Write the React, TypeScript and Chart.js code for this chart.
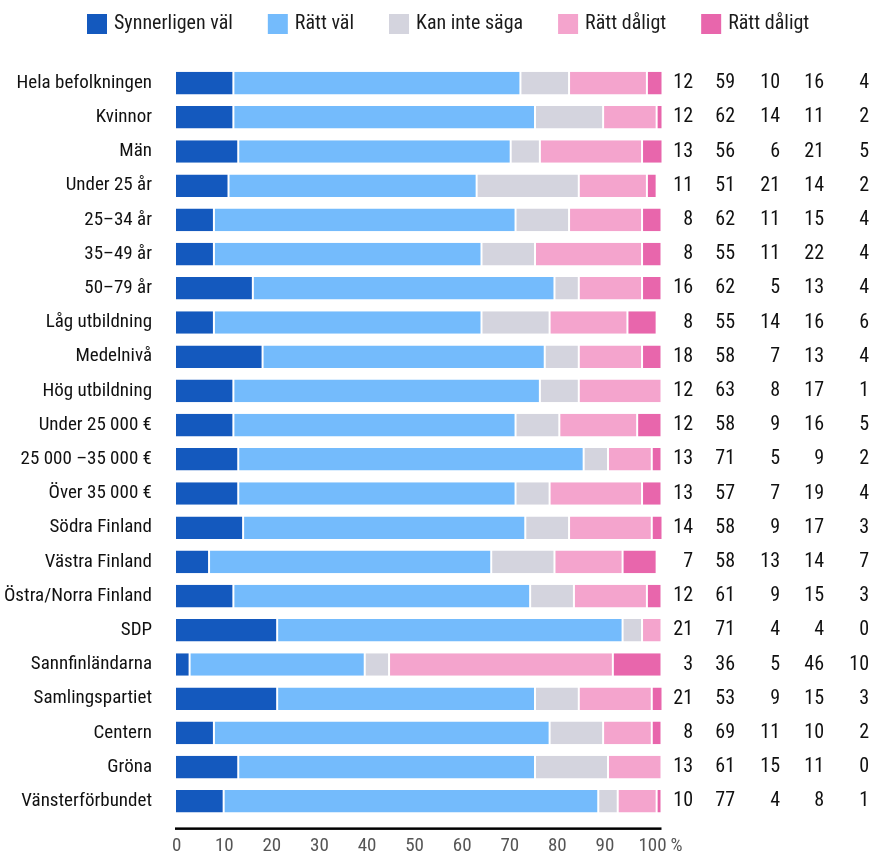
import React, { useEffect, useRef } from 'react';
import { Chart, registerables } from 'chart.js';

Chart.register(...registerables);

const categories = [
  'Hela befolkningen',
  'Kvinnor',
  'Män',
  'Under 25 år',
  '25–34 år',
  '35–49 år',
  '50–79 år',
  'Låg utbildning',
  'Medelnivå',
  'Hög utbildning',
  'Under 25 000 €',
  '25 000 –35 000 €',
  'Över 35 000 €',
  'Södra Finland',
  'Västra Finland',
  'Östra/Norra Finland',
  'SDP',
  'Sannfinländarna',
  'Samlingspartiet',
  'Centern',
  'Gröna',
  'Vänsterförbundet',
];

const seriesLabels = ['Synnerligen väl', 'Rätt väl', 'Kan inte säga', 'Rätt dåligt', 'Rätt dåligt'];

const synnerligenVal = [12, 12, 13, 11, 8, 8, 16, 8, 18, 12, 12, 13, 13, 14, 7, 12, 21, 3, 21, 8, 13, 10];
const rattVal = [59, 62, 56, 51, 62, 55, 62, 55, 58, 63, 58, 71, 57, 58, 58, 61, 71, 36, 53, 69, 61, 77];
const kanInteSaga = [10, 14, 6, 21, 11, 11, 5, 14, 7, 8, 9, 5, 7, 9, 13, 9, 4, 5, 9, 11, 15, 4];
const rattDaligt = [16, 11, 21, 14, 15, 22, 13, 16, 13, 17, 16, 9, 19, 17, 14, 15, 4, 46, 15, 10, 11, 8];
const rattDaligt2 = [4, 2, 5, 2, 4, 4, 4, 6, 4, 1, 5, 2, 4, 3, 7, 3, 0, 10, 3, 2, 0, 1];

const seriesValues = [synnerligenVal, rattVal, kanInteSaga, rattDaligt, rattDaligt2];
const seriesColors = ['#1459be', '#74bbfc', '#d4d4de', '#f4a4cd', '#e866ac'];

const xTicks = [0, 10, 20, 30, 40, 50, 60, 70, 80, 90, 100];

const FONT = "'Roboto Condensed', 'Open Sans Condensed', sans-serif";
const FONT_SIZE = 19;
const LEGEND_SIZE = 20;
const VALUE_SIZE = 20;

// right edges of the value columns (layout)
const columnRight = [693, 735, 780, 824, 869];

const overlayPlugin = {
  id: 'overlay',
  afterDraw(chart: any) {
    const ctx = chart.ctx as CanvasRenderingContext2D;
    const area = chart.chartArea;
    ctx.save();

    // legend
    ctx.font = `${LEGEND_SIZE}px ${FONT}`;
    let lx = 87;
    chart.data.datasets.forEach((ds: any) => {
      ctx.fillStyle = ds.backgroundColor;
      ctx.fillRect(lx, 14, 20, 20);
      ctx.fillStyle = '#1a1a1a';
      ctx.textAlign = 'left';
      ctx.textBaseline = 'middle';
      ctx.fillText(ds.label, lx + 27, 24);
      lx += 27 + ctx.measureText(ds.label).width + 35;
    });

    // value columns
    ctx.font = `${VALUE_SIZE}px ${FONT}`;
    const yScale = chart.scales.y;
    ctx.fillStyle = '#111';
    ctx.textAlign = 'right';
    ctx.textBaseline = 'middle';
    chart.data.datasets.forEach((ds: any, i: number) => {
      ds.data.forEach((v: number, j: number) => {
        const y = yScale.getPixelForValue(j);
        ctx.fillText(String(v), columnRight[i], y);
      });
    });

    // axis line
    ctx.fillStyle = '#000';
    ctx.fillRect(area.left, area.bottom + 9, area.right - area.left, 2.5);

    // percent sign after last tick
    ctx.font = `${FONT_SIZE}px ${FONT}`;
    const x2 = chart.scales.x2;
    const px = x2.getPixelForValue(100);
    const w = ctx.measureText('100').width;
    ctx.fillStyle = '#555';
    ctx.textAlign = 'left';
    ctx.fillText('%', px + w / 2 + 4, area.bottom + 16 + FONT_SIZE * 0.6);
    ctx.restore();
  },
};

export default function App() {
  const ref = useRef<HTMLCanvasElement | null>(null);

  useEffect(() => {
    if (!ref.current) return;
    const chart = new Chart(ref.current, {
      type: 'bar',
      data: {
        labels: categories,
        datasets: seriesValues.map((vals, i) => ({
          label: seriesLabels[i],
          data: vals,
          backgroundColor: seriesColors[i],
          borderColor: '#ffffff',
          borderWidth: { left: 1, right: 1, top: 0, bottom: 0 },
          borderSkipped: false,
          barPercentage: 0.66,
          categoryPercentage: 1,
          xAxisID: 'x',
        })),
      },
      options: {
        indexAxis: 'y',
        responsive: false,
        animation: false,
        devicePixelRatio: 1,
        layout: { padding: { top: 66, right: 211.5, left: 0, bottom: 0 } },
        plugins: {
          legend: { display: false },
          tooltip: { enabled: false },
        },
        scales: {
          x: {
            type: 'linear',
            stacked: true,
            min: 0,
            max: 100,
            display: false,
          },
          x2: {
            type: 'linear',
            position: 'bottom',
            min: -0.357,
            max: 101.89,
            grid: { display: false, drawTicks: false },
            border: { display: false },
            afterBuildTicks: (s: any) => {
              s.ticks = xTicks.map((v) => ({ value: v }));
            },
            afterFit: (s: any) => {
              s.height = 37.6;
            },
            ticks: {
              color: '#555',
              font: { family: FONT, size: FONT_SIZE },
              padding: 16,
              maxRotation: 0,
              autoSkip: false,
              callback: (v: any) => String(v),
            },
          },
          y: {
            type: 'category',
            stacked: true,
            grid: { display: false, drawTicks: false },
            border: { display: false },
            afterFit: (s: any) => {
              s.width = 175;
            },
            ticks: {
              color: '#111',
              font: { family: FONT, size: FONT_SIZE },
              padding: 23,
              autoSkip: false,
            },
          },
        },
      },
      plugins: [overlayPlugin],
    } as any);
    return () => chart.destroy();
  }, []);

  return (
    <div style={{ position: 'absolute', left: 0, top: 0, width: 873, height: 856 }}>
      <canvas ref={ref} width={873} height={856} style={{ display: 'block' }} />
    </div>
  );
}
